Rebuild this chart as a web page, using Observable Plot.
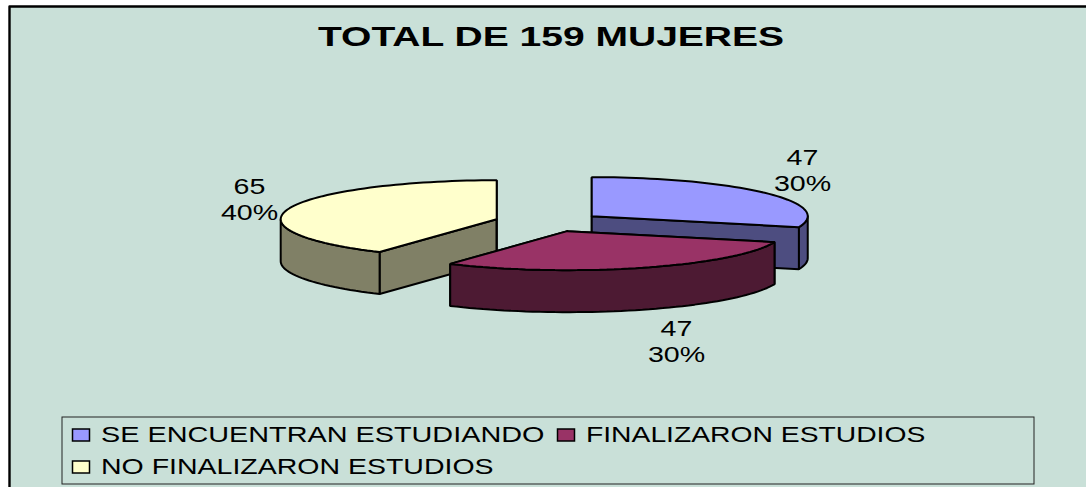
<!DOCTYPE html>
<html><head><meta charset="utf-8">
<style>html,body{margin:0;padding:0;background:#fff}svg{display:block}</style>
<script src="https://cdn.jsdelivr.net/npm/d3@7"></script>
<script src="https://cdn.jsdelivr.net/npm/@observablehq/plot@0.6"></script>
</head><body>
<script>
const categories = ["SE ENCUENTRAN ESTUDIANDO", "FINALIZARON ESTUDIOS", "NO FINALIZARON ESTUDIOS"];
const values = [47, 47, 65];
const percents = ["30%", "30%", "40%"];
const topColors = ["#9999ff", "#993366", "#ffffcc"];
const sideColors = ["#4d4d80", "#4d1a33", "#808066"];
const titleText = "TOTAL DE 159 MUJERES";

const W = 1086, H = 487;
const pie = {cx: 548, cy: 221.5, rx: 216, ry: 39, depth: 42, explode: 54};
const panel = "#c9e0d8";
const font = "Liberation Sans, Arial, sans-serif";
const labelAnchors = [[802, 157], [676, 328], [249, 186]];
const lineGap = 26;
const titleStretch = 1.445, labelStretch = 1.3, legendStretch = [1.34, 1.315, 1.325];

const total = d3.sum(values);
const toRad = Math.PI / 180;
let cum = 0;
const slices = values.map((v, i) => {
  const a0 = cum / total * 360; cum += v;
  const a1 = cum / total * 360;
  const mid = (a0 + a1) / 2 * toRad;
  return {i, a0, a1,
    ax: pie.cx + pie.explode * Math.sin(mid),
    ay: pie.cy - pie.explode * pie.ry / pie.rx * Math.cos(mid)};
});
const rimPoint = (s, deg, dz = 0) => ({
  x: s.ax + pie.rx * Math.sin(deg * toRad),
  y: s.ay - pie.ry * Math.cos(deg * toRad) + dz
});
const arc = (s, a, b, dz = 0) => {
  const n = Math.max(2, Math.ceil(Math.abs(b - a) / 2));
  return d3.range(n + 1).map(k => rimPoint(s, a + (b - a) * k / n, dz));
};
const face = (s, deg) => {
  const p = rimPoint(s, deg);
  const a = {x: s.ax, y: s.ay};
  const d = o => ({x: o.x, y: o.y + pie.depth});
  return [a, p, d(p), d(a), a];
};
const shape = (pts, fill, sw = 2) => Plot.line(pts, {x: "x", y: "y", fill, stroke: "#000", strokeWidth: sw, strokeLinejoin: "miter", curve: "linear"});

const marks = [];
// panel and frame
marks.push(Plot.rect([0], {x1: () => 9, x2: () => W, y1: () => 6, y2: () => H, fill: panel}));
marks.push(Plot.line([{x: 9, y: H}, {x: 9, y: 6}, {x: W, y: 6}], {x: "x", y: "y", stroke: "#000", strokeWidth: 2.4}));
// slices back to front: yellow, blue, red
for (const idx of [2, 0, 1]) {
  const s = slices[idx];
  marks.push(shape(face(s, s.a0), sideColors[idx]));
  marks.push(shape(face(s, s.a1), sideColors[idx]));
  const r0 = Math.max(s.a0, 90), r1 = Math.min(s.a1, 270);
  if (r1 > r0) {
    const top = arc(s, r0, r1), bottom = arc(s, r1, r0, pie.depth);
    marks.push(shape([...top, ...bottom, top[0]], sideColors[idx]));
  }
  const a = {x: s.ax, y: s.ay};
  marks.push(shape([a, ...arc(s, s.a0, s.a1), a], topColors[idx]));
}
// title
marks.push(Plot.text([titleText], {x: () => 550.5, y: () => 37, text: d => d, fontFamily: font, fontWeight: "bold", fontSize: 27, fill: "#000", textAnchor: "middle", lineAnchor: "middle"}));
// data labels
const labels = values.flatMap((v, i) => [
  {x: labelAnchors[i][0], y: labelAnchors[i][1], t: String(v)},
  {x: labelAnchors[i][0], y: labelAnchors[i][1] + lineGap, t: percents[i]}
]);
marks.push(Plot.text(labels, {x: "x", y: "y", text: "t", fontFamily: font, fontSize: 22, fill: "#000", textAnchor: "middle", lineAnchor: "middle"}));
// legend
const legendBox = {x1: 62, x2: 1034, y1: 417, y2: 484};
marks.push(Plot.rect([legendBox], {x1: "x1", x2: "x2", y1: "y1", y2: "y2", fill: "none", stroke: "#222", strokeWidth: 1}));
const legendItems = [{x: 72, y: 435, i: 0}, {x: 557, y: 435, i: 1}, {x: 72, y: 467, i: 2}];
for (const it of legendItems) {
  marks.push(Plot.rect([it], {x1: d => d.x + .5, x2: d => d.x + 17.5, y1: d => d.y - 6, y2: d => d.y + 6, fill: topColors[it.i], stroke: "#000", strokeWidth: 1.5}));
  marks.push(Plot.text([it], {x: d => d.x + 28.5, y: d => d.y, text: d => categories[d.i], fontFamily: font, fontSize: 21.5, fill: "#000", textAnchor: "start", lineAnchor: "middle"}));
}

const chart = Plot.plot({
  width: W, height: H, margin: 0,
  x: {domain: [0, W], range: [0, W], axis: null},
  y: {domain: [0, H], range: [0, H], axis: null},
  style: {background: "#fff"},
  marks
});
document.body.append(chart);
// the original's type is stretched horizontally
chart.querySelectorAll("text").forEach(t => {
  const c = t.textContent;
  const li = categories.indexOf(c);
  const k = c === titleText ? titleStretch : li >= 0 ? legendStretch[li] : labelStretch;
  t.setAttribute("textLength", t.getComputedTextLength() * k);
  t.setAttribute("lengthAdjust", "spacingAndGlyphs");
});
</script>
</body></html>
